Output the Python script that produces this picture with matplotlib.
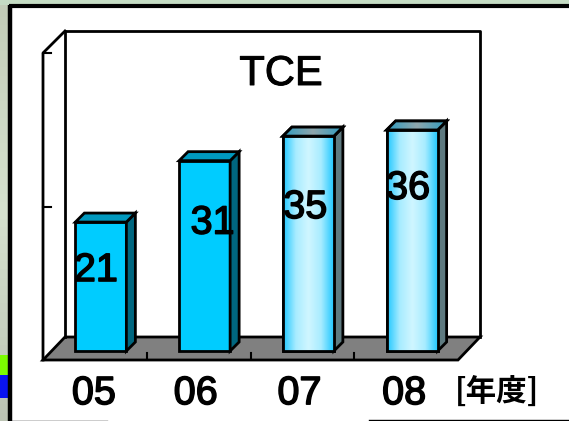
import matplotlib.pyplot as plt
import matplotlib.patheffects as pe
import numpy as np
from matplotlib.colors import LinearSegmentedColormap
from matplotlib.patches import Polygon, Rectangle

# data
years = ['05', '06', '07', '08']
values = [21, 31, 35, 36]
title = 'TCE'
unit_label = '[年度]'

W, H = 569, 421
plt.rcParams['font.family'] = ['Liberation Sans', 'DejaVu Sans']
fig = plt.figure(figsize=(W / 100, H / 100), dpi=100)

# backdrop in pixel coords: slide remains around the white panel
bg = fig.add_axes([0, 0, 1, 1], zorder=0)
bg.set_xlim(0, W)
bg.set_ylim(H, 0)
bg.axis('off')
side = LinearSegmentedColormap.from_list('side', ['#c3cdb8', '#d6e2cf', '#bcc4b4'])
bg.imshow(np.linspace(0, 1, 50)[:, None], extent=[0, 9, H, 0], cmap=side, aspect='auto')
bg.add_patch(Rectangle((0, 0), W, 5, color='#c5dcc4', lw=0))
bg.add_patch(Rectangle((0, 355), 9, 20, color='#7cfc00', lw=0))
bg.add_patch(Rectangle((0, 375), 9, 23, color='#0a14f0', lw=0))
bg.add_patch(Rectangle((9, 5), W, H, fc='white', ec='none'))
bg.plot([10.5, 10.5], [5, H], color='black', lw=3.2, solid_capstyle='butt')
bg.plot([9, W], [5.5, 5.5], color='black', lw=3, solid_capstyle='butt')
bg.plot([10, 107], [420.5, 420.5], color='black', lw=1)
bg.plot([369, W], [419.5, 419.5], color='black', lw=1)
bg.set_xlim(0, W)
bg.set_ylim(H, 0)

# main axes = front plane of the 3d box
ax = fig.add_axes([43 / W, 1 - 360 / H, 415 / W, 307 / H], zorder=1)
ax.set_xlim(0, 4)
ax.set_ylim(0, 50)
ax.axis('off')
px = 4 / 415
py = 50 / 307
dx, dy = 22 * px, 23 * py
lw = 2

# floor and walls
ax.add_patch(Polygon([(0, 0), (4, 0), (4 + dx, dy), (dx, dy)], fc='#808080', ec='black', lw=lw, clip_on=False, zorder=1))
ax.plot([dx, dx, 4 + dx, 4 + dx], [dy, 50 + dy - 1 * py, 50 + dy - 1 * py, dy], color='black', lw=lw, clip_on=False, zorder=1)
ax.plot([0, 0, dx], [0, 50, 50 + dy - 1 * py], color='black', lw=lw, clip_on=False, zorder=1)

# ticks
for v in [25, 50]:
    ax.plot([0, 8 * px], [v, v], color='black', lw=1.5, clip_on=False, zorder=1)
for i in range(1, 4):
    ax.plot([i, i], [0, 7 * py], color='black', lw=1.5, zorder=2)

# bars
bar_w = 51 * px
shift = 6 * px
base = 9 * py
depth_x, depth_y = 9 * px, 9 * py
x = np.arange(len(values)) + 0.5 + shift
shine = LinearSegmentedColormap.from_list('shine', ['#22c8ff', '#a8ecff', '#d0f6ff', '#a8ecff', '#22c8ff'])
top_shine = LinearSegmentedColormap.from_list('top', ['#2f9cc0', '#8fa6ac', '#2f9cc0'])
grad = np.linspace(0, 1, 100)[None, :]

for i, v in enumerate(values):
    l = x[i] - bar_w / 2
    r = x[i] + bar_w / 2
    t = base + v
    glossy = i >= 2
    ax.bar(x[i], v, bar_w, bottom=base, color='#00ccff', edgecolor='black', lw=lw, zorder=3)
    side_p = Polygon([(r, base), (r + depth_x, base + depth_y), (r + depth_x, t + depth_y), (r, t)],
                     fc='#5e7a80' if glossy else '#00667f', ec='black', lw=lw, zorder=3, clip_on=False)
    top_p = Polygon([(l, t), (r, t), (r + depth_x, t + depth_y), (l + depth_x, t + depth_y)],
                    fc='#0099bf', ec='black', lw=lw, zorder=3, clip_on=False)
    ax.add_patch(side_p)
    ax.add_patch(top_p)
    if glossy:
        ax.imshow(grad, extent=[l, r, base, t], cmap=shine, aspect='auto', zorder=3.1)
        ax.add_patch(Rectangle((l, base), bar_w, v, fc='none', ec='black', lw=lw, zorder=3.2))
        im = ax.imshow(grad, extent=[l, r + depth_x, t, t + depth_y], cmap=top_shine, aspect='auto', zorder=3.1)
        im.set_clip_on(True)
        im.set_clip_path(top_p)
        top_p2 = Polygon(top_p.get_xy(), fc='none', ec='black', lw=lw, zorder=3.2, clip_on=False)
        ax.add_patch(top_p2)
ax.set_xlim(0, 4)
ax.set_ylim(0, 50)

thick = [pe.withStroke(linewidth=1.1, foreground='black')]

# value labels sit a bit off the bars, as in the original
label_dx = [-5, 8, -3, -4]
label_dy = [-48, -62, -71, -58]
for i, v in enumerate(values):
    ax.annotate(str(v), (x[i], base + v), xytext=(label_dx[i] * 0.72, label_dy[i] * 0.72),
                textcoords='offset points', ha='center', va='center', fontsize=28.5,
                zorder=5, path_effects=thick)

# category labels
label_nudge = [-1 * px, -3 * px, -3 * px, -2 * px]
for i, y in enumerate(years):
    ax.text(i + 0.5 + label_nudge[i], -5.4, y, ha='center', va='center', fontsize=28.5, path_effects=thick)

fig.text(281 / W, 1 - 74 / H, title, ha='center', va='center', fontsize=30, zorder=5,
         path_effects=[pe.withStroke(linewidth=0.7, foreground='black')])
fig.text(497 / W, 1 - 392 / H, unit_label, ha='center', va='center', fontsize=22, fontweight='bold',
         family=['Noto Sans CJK JP', 'DejaVu Sans'], zorder=5)

plt.savefig('out.png', dpi=100)
